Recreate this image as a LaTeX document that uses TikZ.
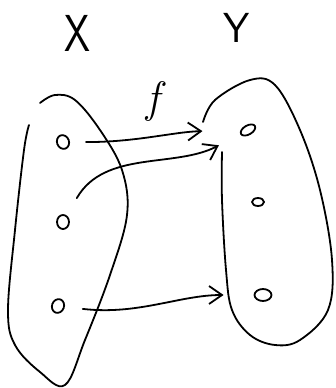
\documentclass[tikz,border=0pt]{standalone}
\usepackage{fontspec}
\usetikzlibrary{arrows.meta, shapes.geometric}

\begin{document}
\begin{tikzpicture}[
  x=1pt, y=-1pt,
  pen/.style={line width=1.8pt, line cap=round, line join=round},
  pt/.style={draw, pen, ellipse, minimum width=12pt, minimum height=14pt, inner sep=0pt},
  arr/.style={pen, -{Straight Barb[length=13pt, width=18pt, line width=1.8pt]}},
  setname/.style={font=\sffamily\fontsize{52}{52}\selectfont, inner sep=0pt},
]
\useasboundingbox (0,0) rectangle (336,388);

% ---- Set X ----
\node[setname, xscale=0.8] (nameX) at (77,33) {X};
\draw[pen] plot[smooth, tension=0.6] coordinates {
  (29,125) (24,150) (15,230) (8,310) (15,345) (40,372) (65,385)
  (85,340) (110,275) (127,215) (122,170) (100,130) (75,100) (55,95) (40,103)};
\node[pt, rotate=20] (x1) at (63,142) {};
\node[pt] (x2) at (63,222) {};
\node[pt, rotate=-20] (x3) at (58,306) {};

% ---- Set Y ----
\node[setname, font=\sffamily\fontsize{42}{42}\selectfont] (nameY) at (237,28) {Y};
\draw[pen] plot[smooth, tension=0.6] coordinates {
  (222,152) (222,200) (226,270) (232,310) (250,335) (275,345) (300,340)
  (328,310) (332,260) (320,190) (300,130) (275,85) (250,80) (215,100) (203,122)};
\node[pt, rotate=30, minimum width=16pt, minimum height=9pt] (y1) at (248,130) {};
\node[pt, minimum width=12pt, minimum height=8pt] (y2) at (258,202) {};
\node[pt, minimum width=17pt, minimum height=12pt] (y3) at (263,295) {};

% ---- f ----
\node[font=\fontsize{44}{44}\selectfont\itshape, inner sep=0pt] (fname) at (153,101) {f};
\draw[arr, shorten <=16pt, shorten >=38pt] (x1) to[out=-2, in=178] (y1);
\draw[arr, shorten <=20pt, shorten >=24pt] (x2) to[out=60, in=205] (y1);
\draw[arr, shorten <=18pt, shorten >=30pt] (x3) to[out=-5, in=180] (y3);

\end{tikzpicture}
\end{document}
